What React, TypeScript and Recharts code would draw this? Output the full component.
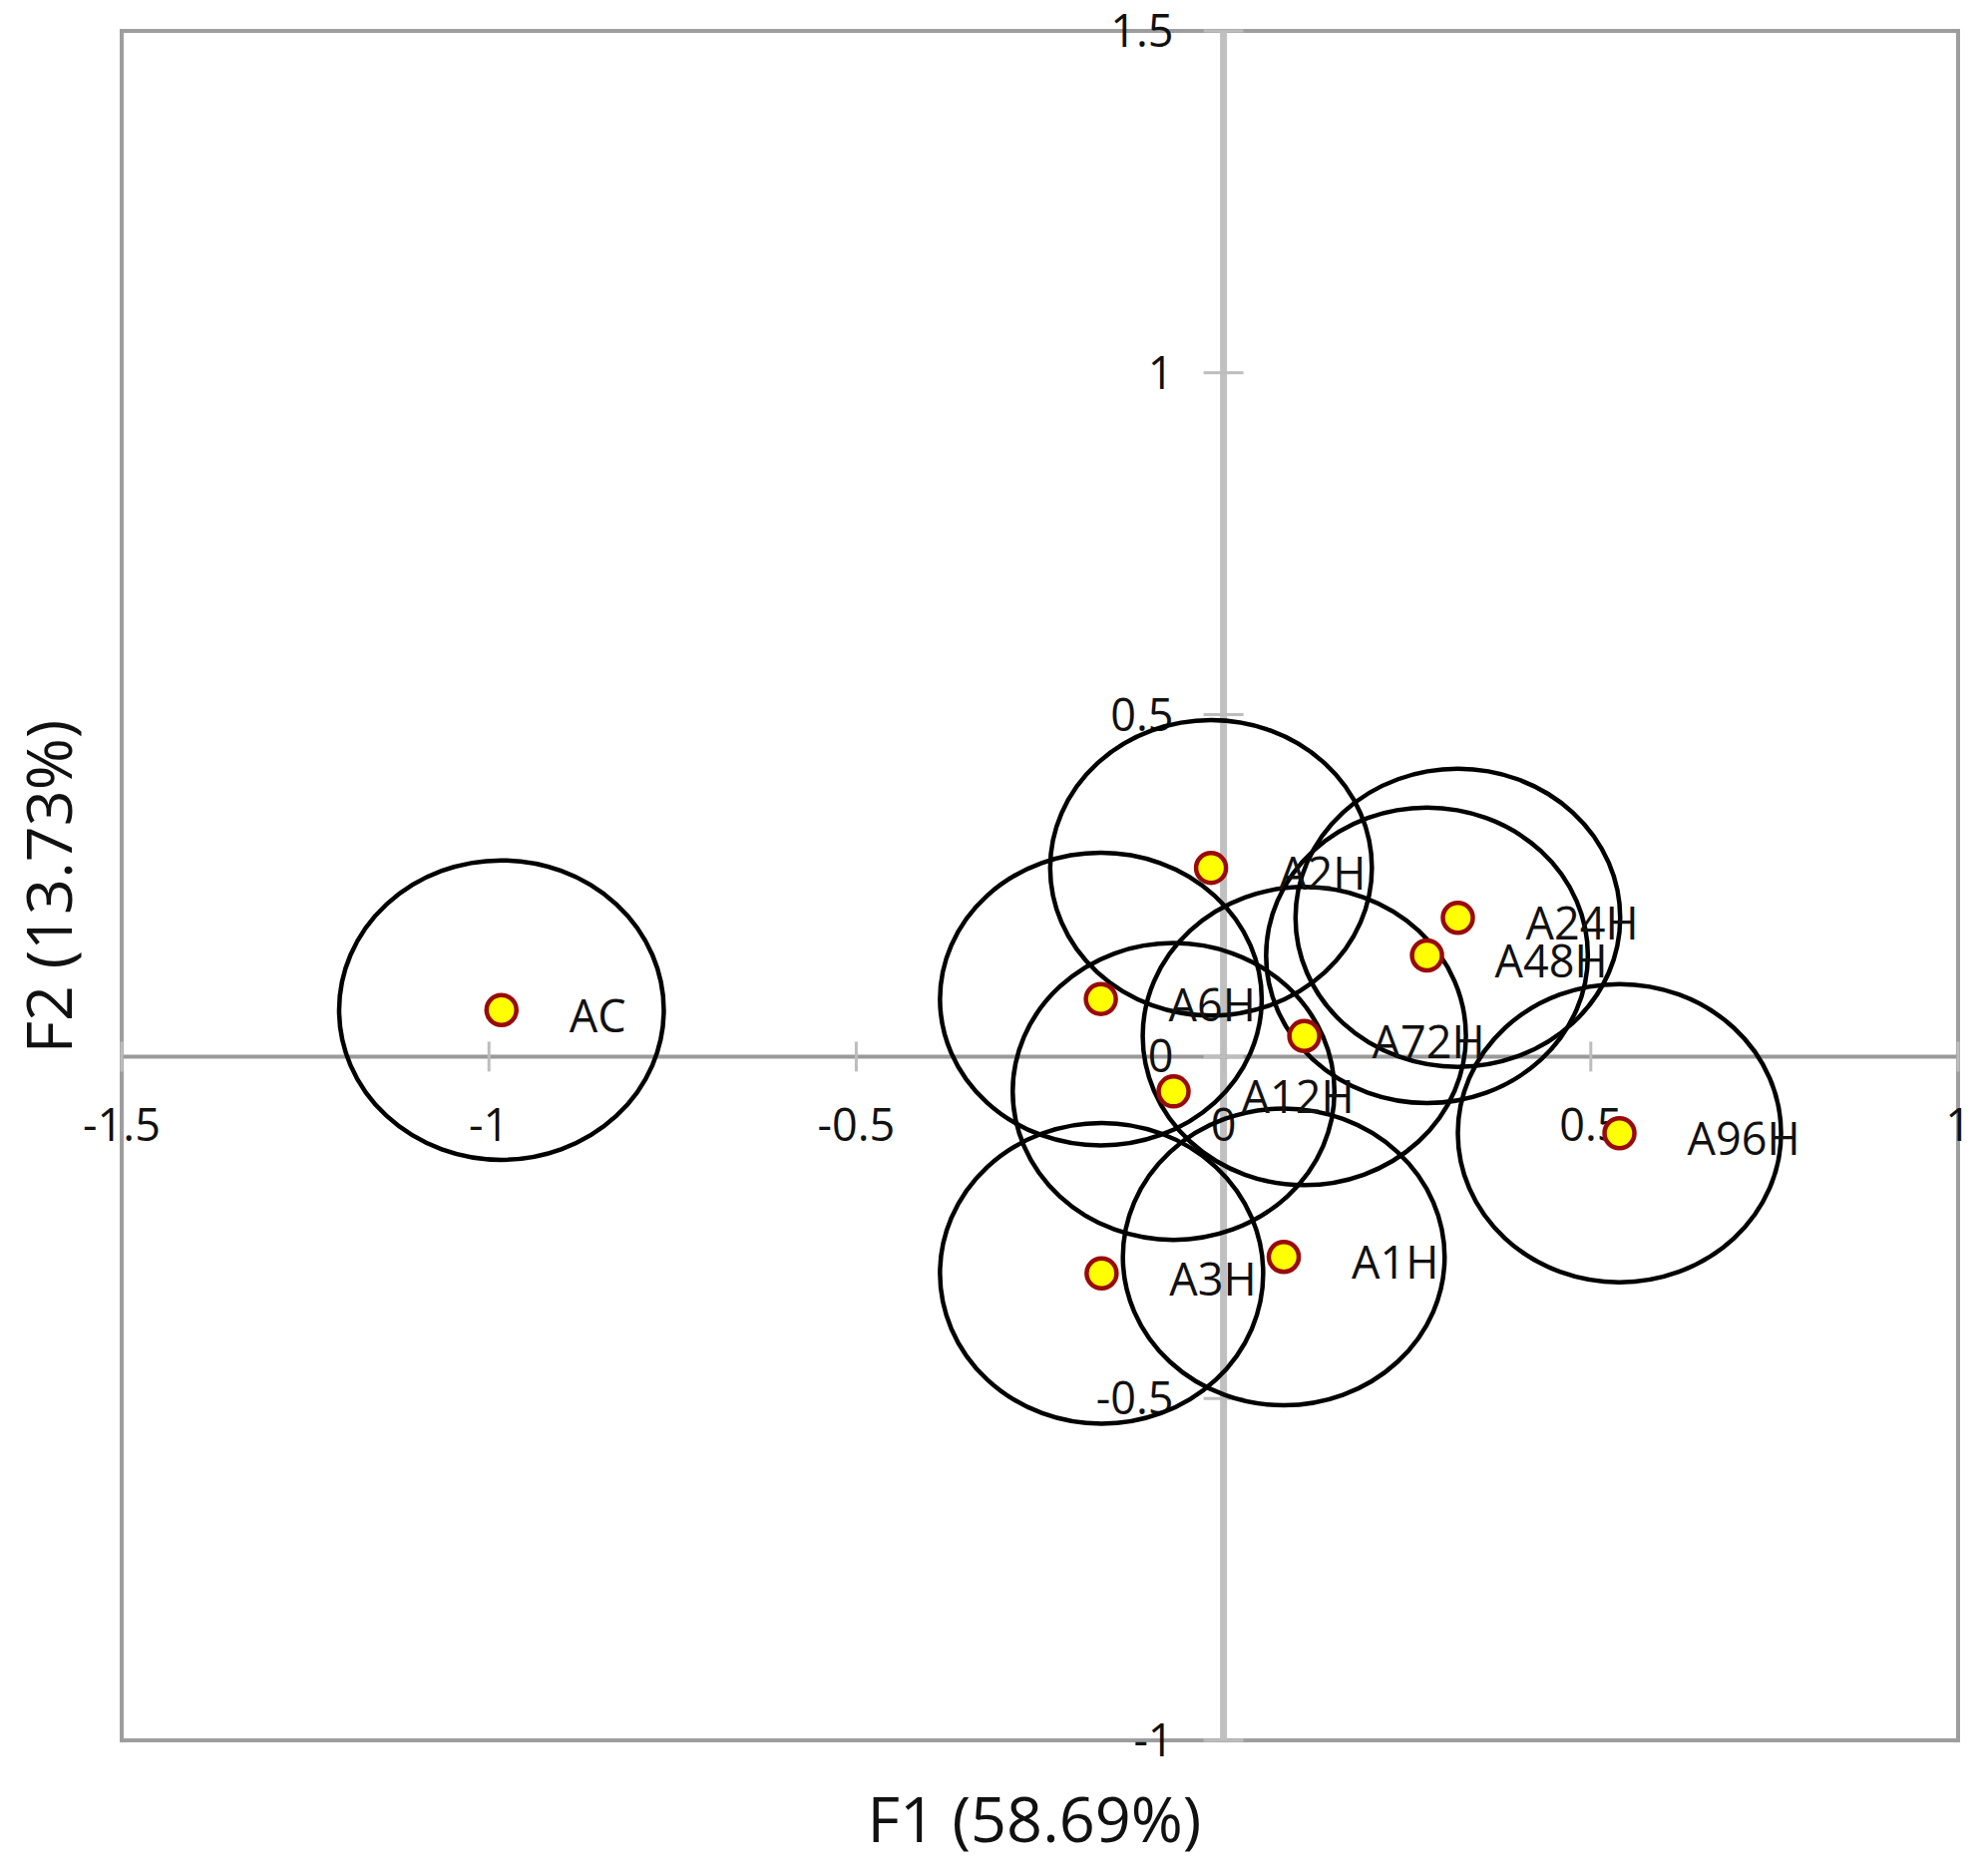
import React from 'react';
import { ScatterChart, Scatter, XAxis, YAxis, ReferenceLine, ReferenceArea, ReferenceDot } from 'recharts';

// ---- data ----
const samples = ['AC', 'A1H', 'A2H', 'A3H', 'A6H', 'A12H', 'A24H', 'A48H', 'A72H', 'A96H'];
const f1Scores = [-0.983, 0.082, -0.017, -0.166, -0.167, -0.068, 0.319, 0.277, 0.110, 0.539];
const f2Scores = [0.068, -0.293, 0.276, -0.317, 0.084, -0.051, 0.203, 0.148, 0.030, -0.112];
// confidence ellipse half-axes (in axis units)
const ellipseRx = [0.221, 0.219, 0.219, 0.220, 0.219, 0.219, 0.221, 0.219, 0.220, 0.220];
const ellipseRy = [0.219, 0.217, 0.216, 0.220, 0.214, 0.217, 0.218, 0.216, 0.218, 0.218];
const xTicks = [-1.5, -1, -0.5, 0, 0.5, 1];
const yTicks = [-1, -0.5, 0, 0.5, 1, 1.5];
const xTitle = 'F1 (58.69%)';
const yTitle = 'F2 (13.73%)';

// ---- layout ----
const W = 1977;
const H = 1863;
const M = { top: 23, right: 22, bottom: 126, left: 114 };
const X_DOMAIN: [number, number] = [-1.5, 1];
const Y_DOMAIN: [number, number] = [-1, 1.5];
const PLOT_W = W - M.left - M.right;
const PLOT_H = H - M.top - M.bottom;
const PX_X = PLOT_W / (X_DOMAIN[1] - X_DOMAIN[0]);
const PX_Y = PLOT_H / (Y_DOMAIN[1] - Y_DOMAIN[0]);

const FONT = '"Open Sans", "DejaVu Sans", sans-serif';
const TEXT = '#111';
const TICK_SIZE = 45;

const points = samples.map((name, i) => ({
  name,
  f1: f1Scores[i],
  f2: f2Scores[i],
  rx: ellipseRx[i],
  ry: ellipseRy[i],
}));

const EllipseShape = (props: any) => {
  const { cx, cy, payload } = props;
  if (cx == null || cy == null) return <g />;
  return (
    <ellipse
      cx={cx}
      cy={cy}
      rx={payload.rx * PX_X}
      ry={payload.ry * PX_Y}
      fill="none"
      stroke="#000"
      strokeWidth={4.5}
    />
  );
};

const DotShape = (props: any) => {
  const { cx, cy, payload } = props;
  if (cx == null || cy == null) return <g />;
  return (
    <g>
      <circle cx={cx} cy={cy} r={15} fill="#ffff00" stroke="#9a0a0a" strokeWidth={4.5} />
      <text x={cx + 68} y={cy + 22} fontFamily={FONT} fontSize={TICK_SIZE} fill={TEXT}>
        {payload.name}
      </text>
    </g>
  );
};

const fmt = (v: number) => String(v);

const XTickShape = (label: string) => (p: any) => (
  <g>
    <line x1={p.cx} x2={p.cx} y1={p.cy - 15} y2={p.cy + 15} stroke="#bdbdbd" strokeWidth={3} />
    <text x={p.cx} y={p.cy + 85} textAnchor="middle" fontFamily={FONT} fontSize={TICK_SIZE} fill={TEXT}>
      {label}
    </text>
  </g>
);

const YTickShape = (label: string) => (p: any) => (
  <g>
    <line x1={p.cx - 20} x2={p.cx + 20} y1={p.cy} y2={p.cy} stroke="#bdbdbd" strokeWidth={3} />
    <text x={p.cx - 50} y={p.cy + 16} textAnchor="end" fontFamily={FONT} fontSize={TICK_SIZE} fill={TEXT}>
      {label}
    </text>
  </g>
);

export default function App() {
  return (
    <div style={{ position: 'relative', width: W, height: H, background: '#fff' }}>
      <ScatterChart width={W} height={H} margin={M}>
        <XAxis type="number" dataKey="f1" domain={X_DOMAIN} allowDataOverflow hide />
        <YAxis type="number" dataKey="f2" domain={Y_DOMAIN} allowDataOverflow hide />
        <ReferenceLine x={0} stroke="#c0c0c0" strokeWidth={7} ifOverflow="visible" />
        <ReferenceLine y={0} stroke="#9a9a9a" strokeWidth={4} ifOverflow="visible" />
        <ReferenceArea
          x1={X_DOMAIN[0]}
          x2={X_DOMAIN[1]}
          y1={Y_DOMAIN[0]}
          y2={Y_DOMAIN[1]}
          fill="none"
          fillOpacity={0}
          stroke="#9e9e9e"
          strokeWidth={4}
          ifOverflow="visible"
        />
        {xTicks.map((t) => (
          <ReferenceDot key={'x' + t} x={t} y={0} r={0} ifOverflow="visible" shape={XTickShape(fmt(t))} />
        ))}
        {yTicks.map((t) => (
          <ReferenceDot key={'y' + t} x={0} y={t} r={0} ifOverflow="visible" shape={YTickShape(fmt(t))} />
        ))}
        <Scatter data={points} dataKey="f2" shape={EllipseShape} isAnimationActive={false} />
        <Scatter data={points} dataKey="f2" shape={DotShape} isAnimationActive={false} />
      </ScatterChart>
      <svg
        width={W}
        height={H}
        style={{ position: 'absolute', left: 0, top: 0, pointerEvents: 'none' }}
      >
        <text x={1029} y={1839} textAnchor="middle" fontFamily={FONT} fontSize={63} fill={TEXT}>
          {xTitle}
        </text>
        <text
          transform="translate(64, 881) rotate(-90)"
          textAnchor="middle"
          fontFamily={FONT}
          fontSize={63}
          fill={TEXT}
        >
          {yTitle}
        </text>
      </svg>
    </div>
  );
}
